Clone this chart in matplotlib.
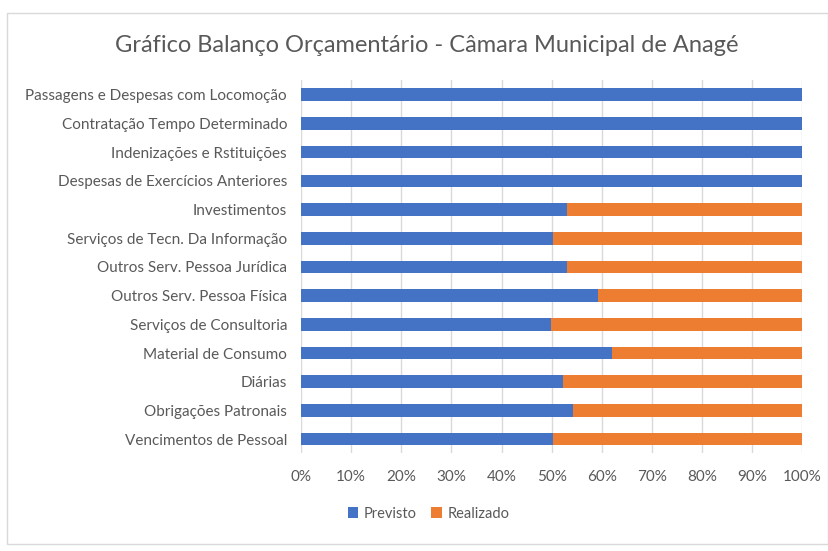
import matplotlib.pyplot as plt
from matplotlib.patches import Rectangle

plt.rcParams['font.family'] = ['Lato', 'DejaVu Sans']

# categorias de baixo para cima
categorias = ["Vencimentos de Pessoal", "Obrigações Patronais", "Diárias",
              "Material de Consumo", "Serviços de Consultoria",
              "Outros Serv. Pessoa Física", "Outros Serv. Pessoa Jurídica",
              "Serviços de Tecn. Da Informação", "Investimentos",
              "Despesas de Exercícios Anteriores", "Indenizações e Rstituições",
              "Contratação Tempo Determinado", "Passagens e Despesas com Locomoção"]
previsto = [50.3, 54.3, 52.3, 62.1, 49.9, 59.2, 53.1, 50.2, 53.1, 100, 100, 100, 100]
realizado = [100 - p for p in previsto]

azul = "#4472C4"
laranja = "#ED7D31"
cinza = "#595959"

fig = plt.figure(figsize=(8.29, 5.51), dpi=100)
ax = fig.add_axes([0.363, 0.177, 0.605, 0.677])

y = range(len(categorias))
ax.barh(y, previsto, height=0.44, color=azul, label="Previsto", zorder=3)
ax.barh(y, realizado, left=previsto, height=0.44, color=laranja, label="Realizado", zorder=3)

ax.set_xlim(0, 100)
ax.set_ylim(-0.5, len(categorias) - 0.5)
ax.set_xticks(range(0, 101, 10))
ax.set_xticklabels([f"{v}%" for v in range(0, 101, 10)])
ax.set_yticks(list(y))
ax.set_yticklabels(categorias)
ax.xaxis.grid(True, color="#D9D9D9", linewidth=1, zorder=0)
ax.tick_params(axis="both", length=0, colors=cinza, labelsize=11)
ax.tick_params(axis="x", pad=12)
ax.tick_params(axis="y", pad=10)
for s in ax.spines.values():
    s.set_visible(False)

fig.text(0.515, 0.918, "Gráfico Balanço Orçamentário - Câmara Municipal de Anagé",
         ha="center", va="center", fontsize=17, color=cinza)

fig.legend(loc="center", bbox_to_anchor=(0.517, 0.068), ncol=2, frameon=False,
           fontsize=10.5, handlelength=0.7, handleheight=0.7, handletextpad=0.4,
           columnspacing=1.0, labelcolor=cinza)

fig.patches.append(Rectangle((0.009, 0.012), 0.99, 0.965, transform=fig.transFigure,
                             fill=False, edgecolor="#D9D9D9", linewidth=1))

fig.savefig("out.png", dpi=100)
